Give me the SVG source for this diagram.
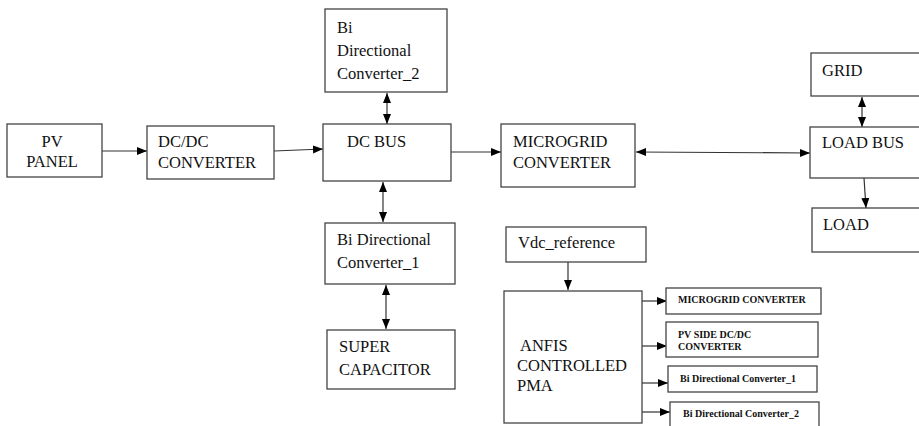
<svg xmlns="http://www.w3.org/2000/svg" width="919" height="426" viewBox="0 0 919 426">
<style>
.box{fill:#fff;stroke:#444;stroke-width:1.3}
.t{font-family:'Liberation Serif','Tinos','Times New Roman','DejaVu Serif',serif;font-size:16.5px;fill:#111}
.s{font-family:'Liberation Serif','Tinos','Times New Roman','DejaVu Serif',serif;font-size:10px;font-weight:bold;fill:#111}
.c{fill:none;stroke:#333;stroke-width:1.2}
</style>
<defs>
<marker id="ae" markerUnits="userSpaceOnUse" markerWidth="10" markerHeight="10" viewBox="0 0 10 10" refX="10" refY="5" orient="auto">
<path d="M0,1 L10,5 L0,9 Z" fill="#000"/>
</marker>
<marker id="as" markerUnits="userSpaceOnUse" markerWidth="10" markerHeight="10" viewBox="0 0 10 10" refX="0" refY="5" orient="auto">
<path d="M10,1 L0,5 L10,9 Z" fill="#000"/>
</marker>
</defs>
<rect width="919" height="426" fill="#fff"/>
<g id="connectors">
<line class="c" x1="102" y1="151" x2="147" y2="151" marker-end="url(#ae)"/>
<line class="c" x1="274" y1="151" x2="323" y2="149" marker-end="url(#ae)"/>
<line class="c" x1="387" y1="93" x2="387" y2="124" marker-start="url(#as)" marker-end="url(#ae)"/>
<line class="c" x1="383" y1="182" x2="383" y2="222" marker-start="url(#as)" marker-end="url(#ae)"/>
<line class="c" x1="386" y1="285" x2="386" y2="329" marker-start="url(#as)" marker-end="url(#ae)"/>
<line class="c" x1="451" y1="152" x2="501" y2="152" marker-end="url(#ae)"/>
<line class="c" x1="636" y1="152" x2="810" y2="153" marker-start="url(#as)" marker-end="url(#ae)"/>
<line class="c" x1="862" y1="97" x2="862" y2="127" marker-start="url(#as)" marker-end="url(#ae)"/>
<line class="c" x1="864" y1="178" x2="866" y2="208" marker-end="url(#ae)"/>
<line class="c" x1="568" y1="262" x2="568" y2="290" marker-end="url(#ae)"/>
<line class="c" x1="642" y1="301" x2="667" y2="301" marker-end="url(#ae)"/>
<line class="c" x1="642" y1="346" x2="667" y2="346" marker-end="url(#ae)"/>
<line class="c" x1="642" y1="383" x2="668" y2="383" marker-end="url(#ae)"/>
<line class="c" x1="642" y1="412" x2="670" y2="412" marker-end="url(#ae)"/>
</g>
<g id="pv-panel">
<rect class="box" x="7" y="124" width="95" height="53"/>
<text class="t" x="52" y="147" text-anchor="middle">PV</text>
<text class="t" x="52" y="167" text-anchor="middle">PANEL</text>
</g>
<g id="dcdc-converter">
<rect class="box" x="147" y="126" width="127" height="53"/>
<text class="t" x="158" y="147">DC/DC</text>
<text class="t" x="158" y="168">CONVERTER</text>
</g>
<g id="bdc2">
<rect class="box" x="325" y="9" width="122" height="83"/>
<text class="t" x="337" y="33">Bi</text>
<text class="t" x="337" y="56">Directional</text>
<text class="t" x="337" y="79">Converter_2</text>
</g>
<g id="dc-bus">
<rect class="box" x="323" y="124" width="128" height="57"/>
<text class="t" x="347" y="147">DC BUS</text>
</g>
<g id="bdc1">
<rect class="box" x="325" y="223" width="130" height="61"/>
<text class="t" x="337" y="245">Bi Directional</text>
<text class="t" x="337" y="268">Converter_1</text>
</g>
<g id="super-capacitor">
<rect class="box" x="327" y="330" width="128" height="59"/>
<text class="t" x="339" y="352">SUPER</text>
<text class="t" x="339" y="375">CAPACITOR</text>
</g>
<g id="microgrid-converter">
<rect class="box" x="501" y="124" width="134" height="63"/>
<text class="t" x="513" y="147">MICROGRID</text>
<text class="t" x="513" y="168">CONVERTER</text>
</g>
<g id="grid">
<rect class="box" x="811" y="53" width="120" height="43"/>
<text class="t" x="822" y="76">GRID</text>
</g>
<g id="load-bus">
<rect class="box" x="810" y="127" width="121" height="51"/>
<text class="t" x="822" y="148">LOAD BUS</text>
</g>
<g id="load">
<rect class="box" x="812" y="208" width="119" height="44"/>
<text class="t" x="823" y="230">LOAD</text>
</g>
<g id="vdc-reference">
<rect class="box" x="506" y="227" width="140" height="35"/>
<text class="t" x="518" y="248">Vdc_reference</text>
</g>
<g id="anfis-pma">
<rect class="box" x="504" y="291" width="138" height="132"/>
<text class="t" x="520" y="351">ANFIS</text>
<text class="t" x="517" y="371">CONTROLLED</text>
<text class="t" x="517" y="391">PMA</text>
</g>
<g id="out-microgrid">
<rect class="box" x="666" y="288" width="155" height="26"/>
<text class="s" x="678" y="303">MICROGRID CONVERTER</text>
</g>
<g id="out-pv-dcdc">
<rect class="box" x="666" y="322" width="152" height="35"/>
<text class="s" x="678" y="338">PV SIDE DC/DC</text>
<text class="s" x="678" y="350">CONVERTER</text>
</g>
<g id="out-bdc1">
<rect class="box" x="668" y="366" width="149" height="26"/>
<text class="s" x="680" y="382">Bi Directional Converter_1</text>
</g>
<g id="out-bdc2">
<rect class="box" x="670" y="402" width="149" height="30"/>
<text class="s" x="683" y="417">Bi Directional Converter_2</text>
</g>
</svg>
